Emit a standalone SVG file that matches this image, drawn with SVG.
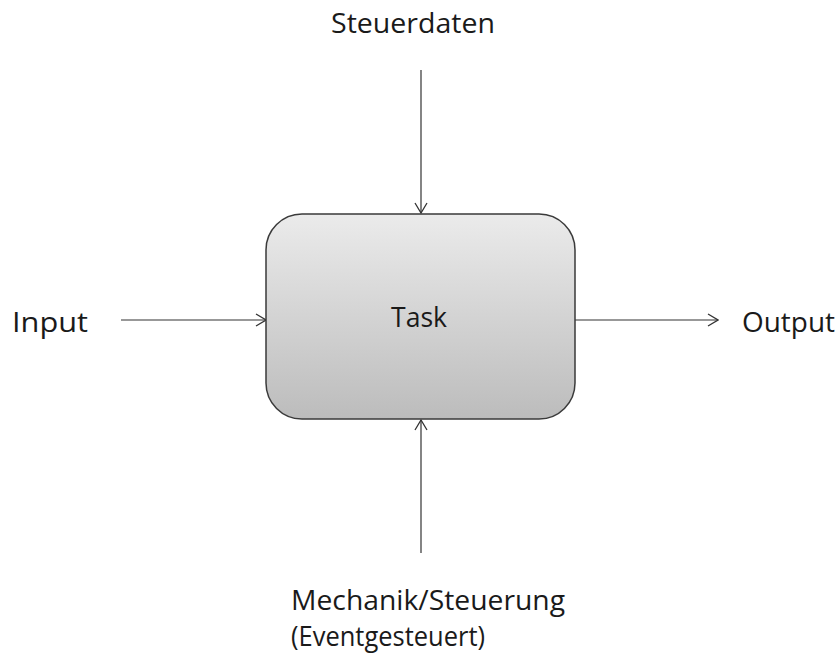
<svg xmlns="http://www.w3.org/2000/svg" width="840" height="654" viewBox="0 0 840 654">
  <defs>
    <linearGradient id="taskFill" x1="0" y1="0" x2="0" y2="1">
      <stop offset="0" stop-color="#ebebeb"/>
      <stop offset="1" stop-color="#bcbcbc"/>
    </linearGradient>
    <marker id="openArrow" viewBox="0 0 12 14" refX="11" refY="7" markerWidth="12" markerHeight="14" markerUnits="userSpaceOnUse" orient="auto">
      <path d="M1 1 L11 7 L1 13" fill="none" stroke="#333" stroke-width="1.3"/>
    </marker>
  </defs>
  <style>
    text { font-family: "Open Sans", "Noto Sans", "DejaVu Sans", sans-serif; font-size: 27px; fill: #1a1a1a; }
    .flow { stroke: #333; stroke-width: 1.2; fill: none; marker-end: url(#openArrow); }
  </style>
  <rect width="840" height="654" fill="#ffffff"/>

  <g id="connectors">
    <line class="flow" x1="421" y1="70" x2="421" y2="213"/>
    <line class="flow" x1="421" y1="553" x2="421" y2="420"/>
    <line class="flow" x1="121" y1="320" x2="266" y2="320"/>
    <line class="flow" x1="575" y1="320" x2="718" y2="320"/>
  </g>

  <g id="task">
    <rect x="266" y="214" width="309" height="205" rx="36" ry="36" fill="url(#taskFill)" stroke="#3a3a3a" stroke-width="1.5"/>
    <text x="391" y="327" textLength="56" lengthAdjust="spacingAndGlyphs">Task</text>
  </g>

  <g id="steuerdaten">
    <text x="331" y="33" textLength="164" lengthAdjust="spacingAndGlyphs">Steuerdaten</text>
  </g>

  <g id="input">
    <text x="12" y="332" textLength="76" lengthAdjust="spacingAndGlyphs">Input</text>
  </g>

  <g id="output">
    <text x="742" y="332" textLength="93" lengthAdjust="spacingAndGlyphs">Output</text>
  </g>

  <g id="mechanik">
    <text x="291" y="610" textLength="274" lengthAdjust="spacingAndGlyphs">Mechanik/Steuerung</text>
    <text x="291" y="646" textLength="194" lengthAdjust="spacingAndGlyphs">(Eventgesteuert)</text>
  </g>
</svg>
